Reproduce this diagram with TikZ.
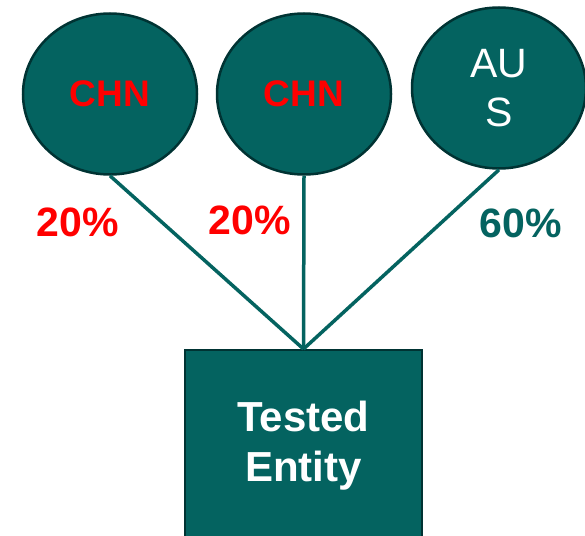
\documentclass[tikz,border=0pt]{standalone}
\usepackage{fontspec}
\setmainfont{Liberation Sans}
\usetikzlibrary{shapes.geometric}
\definecolor{tealfill}{RGB}{4,99,96}
\definecolor{tealedge}{RGB}{0,51,51}
\tikzset{
country/.style={ellipse, draw=tealedge, line width=2.5pt, fill=tealfill,
  minimum width=174pt, minimum height=161pt, inner sep=0pt, align=center},
entity/.style={rectangle, draw=tealedge, line width=2pt, fill=tealfill,
  minimum width=237pt, minimum height=192pt, text=white, align=center,
  font=\bfseries\fontsize{42}{50}\selectfont},
share/.style={font=\bfseries\fontsize{41}{48}\selectfont},
link/.style={draw=tealfill, line width=3.5pt}
}

\begin{document}
\begin{tikzpicture}[x=1pt, y=-1pt]
  \useasboundingbox (0,0) rectangle (585,535);
  % owners
  \node[country, text=red, font=\bfseries\fontsize{37}{43}\selectfont] (chn1) at (110,94) {CHN};
  \node[country, text=red, font=\bfseries\fontsize{37}{43}\selectfont] (chn2) at (304,94) {CHN};
  \node[country, text=white, font=\fontsize{41}{49}\selectfont] (aus) at (499,88) {AU\\S};
  % owned entity
  \node[entity] (tested) at (303.5,446) {Tested\\Entity};
  \draw[link] (chn1.south) -- (tested.north);
  \draw[link] (chn2.south) -- (tested.north);
  \draw[link] (aus.south) -- (tested.north);
  % shares
  \node[share, text=red] (s1) at (78,222) {20\%};
  \node[share, text=red] (s2) at (250,220) {20\%};
  \node[share, text=tealfill] (s3) at (521,223) {60\%};
\end{tikzpicture}
\end{document}
